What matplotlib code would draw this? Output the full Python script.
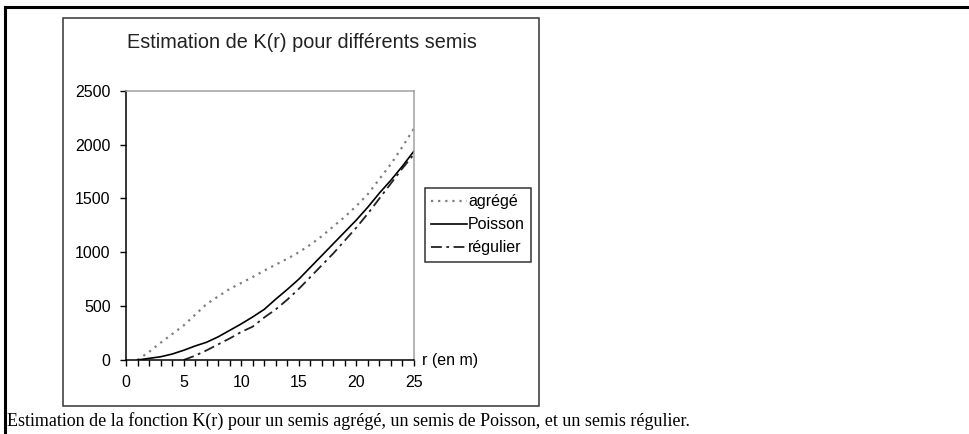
import matplotlib
matplotlib.use("Agg")
from matplotlib import pyplot as plt
from matplotlib.patches import Rectangle
from matplotlib.lines import Line2D
from matplotlib.ticker import MultipleLocator

r = list(range(1, 26))
agrege = [0, 75, 160, 240, 320, 420, 520, 590, 660, 715, 770, 830, 885, 940,
          1000, 1070, 1150, 1240, 1330, 1430, 1540, 1680, 1820, 1980, 2150]
poisson = [0, 15, 30, 55, 90, 130, 165, 215, 275, 335, 400, 470, 565, 655,
           750, 860, 970, 1080, 1190, 1300, 1420, 1550, 1670, 1800, 1940]
r_reg = list(range(5, 26))
regulier = [0, 40, 90, 145, 200, 260, 310, 395, 470, 560, 660, 770, 880, 990,
            1110, 1230, 1360, 1500, 1640, 1780, 1910]

W, H = 969, 434
fig = plt.figure(figsize=(W / 100, H / 100), dpi=100)
sans = 'Liberation Sans'

# outer page lines
fig.add_artist(Line2D([5 / W, 1], [1 - 7 / H, 1 - 7 / H], color='black', lw=2.2))
fig.add_artist(Line2D([5 / W, 5 / W], [0, 1 - 7 / H], color='black', lw=2.2))
# chart frame
fig.add_artist(Rectangle((63 / W, 1 - 406 / H), 476 / W, 388 / H, fill=False,
                         edgecolor='#333333', lw=1.1, transform=fig.transFigure))

ax = fig.add_axes([126 / W, 1 - 360 / H, 288 / W, 269.3 / H])
ax.plot(r, agrege, color='#7f7f7f', ls=(0, (1, 2.2)), lw=1.6, label='agrégé')
ax.plot(r, poisson, color='black', ls='-', lw=1.2, label='Poisson')
ax.plot(r_reg, regulier, color='#222222', ls=(0, (6, 2.5, 1.5, 2.5)), lw=1.3,
        label='régulier')

ax.set_xlim(0, 25)
ax.set_ylim(0, 2500)
ax.xaxis.set_major_locator(MultipleLocator(5))
ax.xaxis.set_minor_locator(MultipleLocator(1))
ax.yaxis.set_major_locator(MultipleLocator(500))
ax.tick_params(axis='both', which='both', direction='out', length=4, width=1,
               labelsize=11.5, pad=7)
for lab in ax.get_xticklabels() + ax.get_yticklabels():
    lab.set_family(sans)
for s in ['left', 'bottom']:
    ax.spines[s].set_color('black')
    ax.spines[s].set_linewidth(1.1)
for s in ['top', 'right']:
    ax.spines[s].set_color('#a0a0a0')
    ax.spines[s].set_linewidth(1.1)

fig.text(302 / W, 1 - 43 / H, 'Estimation de K(r) pour différents semis',
         ha='center', va='center', fontsize=14.3, family=sans, color='#222222')
fig.text(422 / W, 1 - 360 / H, 'r (en m)', ha='left', va='center',
         fontsize=11.5, family=sans)

leg = ax.legend(loc='upper left', bbox_to_anchor=(425 / W, 1 - 188 / H),
                bbox_transform=fig.transFigure, prop={'family': sans, 'size': 11.5},
                frameon=True, fancybox=False, handlelength=2.2,
                handletextpad=0.1, borderpad=0.4, labelspacing=0.5,
                borderaxespad=0)
leg.get_frame().set_edgecolor('black')
leg.get_frame().set_linewidth(1.1)

fig.text(7 / W, 1 - 421 / H,
         'Estimation de la fonction K(r) pour un semis agrégé, un semis de Poisson, et un semis régulier.',
         ha='left', va='center', fontsize=13, family='Liberation Serif')

fig.savefig('out.png', dpi=100)
